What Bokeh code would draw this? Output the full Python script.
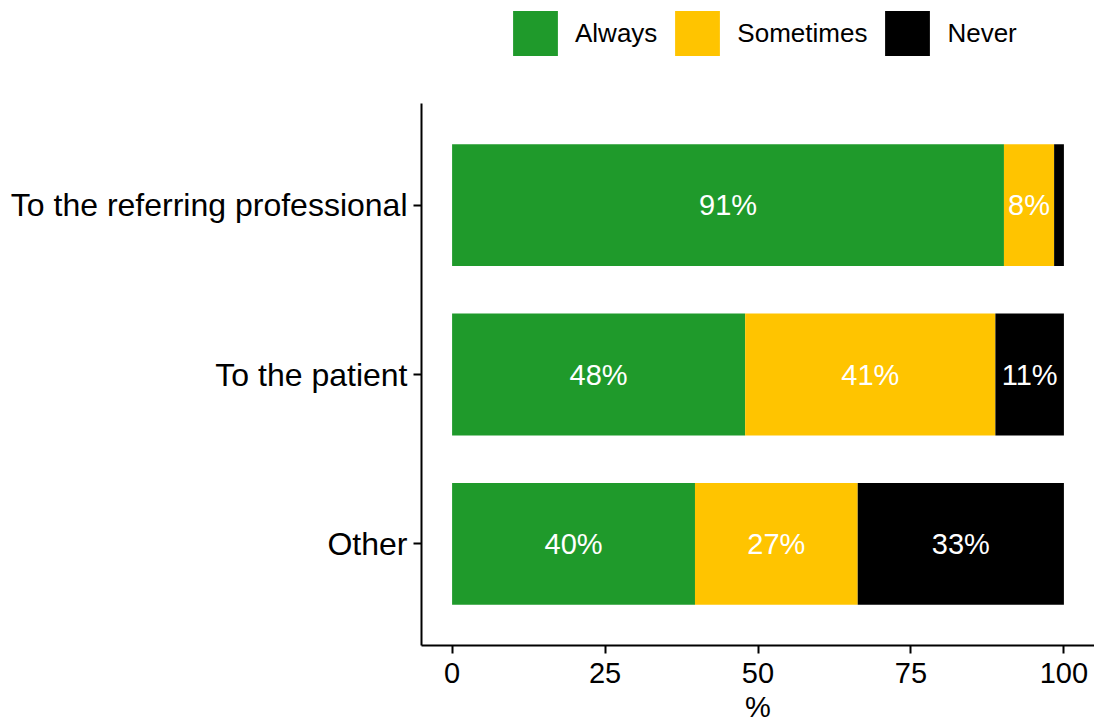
from bokeh.plotting import figure
from bokeh.layouts import column
from bokeh.models import Range1d, FixedTicker, Legend, LegendItem, ColumnDataSource
from bokeh.core.properties import value
from bokeh.embed import file_html
from bokeh.resources import INLINE

categories = ["To the referring professional", "To the patient", "Other"]
always = [90.2, 47.9, 39.7]
sometimes = [8.2, 40.9, 26.6]
never = [1.6, 11.2, 33.7]
always_labels = ["91%", "48%", "40%"]
sometimes_labels = ["8%", "41%", "27%"]
never_labels = ["", "11%", "33%"]
x_ticks = [0, 25, 50, 75, 100]
series_names = ["Always", "Sometimes", "Never"]
colors = ["#1F9A2B", "#FFC400", "#000000"]

FONT = "Liberation Sans"
n = len(categories)
ypos = [n - i for i in range(n)]

W = 1094
LEG_H = 64
H = 726 - LEG_H

p = figure(width=W, height=H, output_backend="svg", toolbar_location=None,
           x_range=Range1d(-5, 105), y_range=Range1d(0.4, n + 0.6),
           min_border_left=421, min_border_right=0, min_border_top=103 - LEG_H,
           min_border_bottom=81)
p.outline_line_color = None
p.xgrid.visible = False
p.ygrid.visible = False
p.background_fill_color = "white"

# legend strip above the chart (its frame is aligned with the main frame)
lg = figure(width=W, height=LEG_H, output_backend="svg", toolbar_location=None,
            x_axis_type=None, y_axis_type=None, x_range=p.x_range,
            y_range=p.y_range, min_border_left=0, min_border_right=0,
            min_border_top=0, min_border_bottom=0)
lg.outline_line_color = None
lg.xgrid.visible = False
lg.ygrid.visible = False

series = [always, sometimes, never]
label_sets = [always_labels, sometimes_labels, never_labels]
left = [0.0] * n
items = []
for name, vals, labs, col in zip(series_names, series, label_sets, colors):
    right = [l + v for l, v in zip(left, vals)]
    mid = [(l + r) / 2 for l, r in zip(left, right)]
    src = ColumnDataSource(dict(y=ypos, left=left, right=right, mid=mid, lab=labs))
    p.hbar(y="y", left="left", right="right", height=0.72, source=src,
           fill_color=col, line_color=None)
    p.text(x="mid", y="y", text="lab", source=src, text_align="center",
           text_baseline="middle", text_color="white", text_font_size="29px",
           text_font=value(FONT))
    # zero-height copies in the legend strip supply the legend swatches
    r = lg.hbar(y="y", left="left", right="right", height=0, source=src,
                fill_color=col, line_color=None)
    items.append(LegendItem(label=name, renderers=[r]))
    left = right

legend = Legend(items=items, orientation="horizontal", location=(86, 3),
                glyph_width=56, glyph_height=56, label_height=56,
                label_text_font_size="26px", label_text_font=FONT,
                label_text_color="black",
                label_standoff=12, spacing=12, padding=0, margin=0,
                border_line_color=None, background_fill_alpha=0)
lg.add_layout(legend, "center")

p.xaxis.ticker = FixedTicker(ticks=x_ticks)
p.xaxis.axis_label = "%"
p.yaxis.ticker = FixedTicker(ticks=ypos)
p.yaxis.major_label_overrides = {y: c for y, c in zip(ypos, categories)}

for ax in (p.xaxis[0], p.yaxis[0]):
    ax.axis_line_color = "black"
    ax.axis_line_width = 2
    ax.major_tick_line_color = "black"
    ax.major_tick_line_width = 2
    ax.major_tick_out = 8
    ax.major_tick_in = 0
    ax.minor_tick_line_color = None
    ax.major_label_text_font = FONT
    ax.major_label_text_color = "black"
    ax.axis_label_text_font = FONT
    ax.axis_label_text_font_style = "normal"
    ax.axis_label_text_color = "black"

p.xaxis.major_label_text_font_size = "29px"
p.xaxis.axis_label_text_font_size = "29px"
p.xaxis.major_label_standoff = 9
p.xaxis.axis_label_standoff = 5
p.yaxis.major_label_text_font_size = "32px"
p.yaxis.major_label_standoff = 6

layout = column(lg, p, spacing=0)
open("out.html", "w").write(file_html(layout, INLINE))
